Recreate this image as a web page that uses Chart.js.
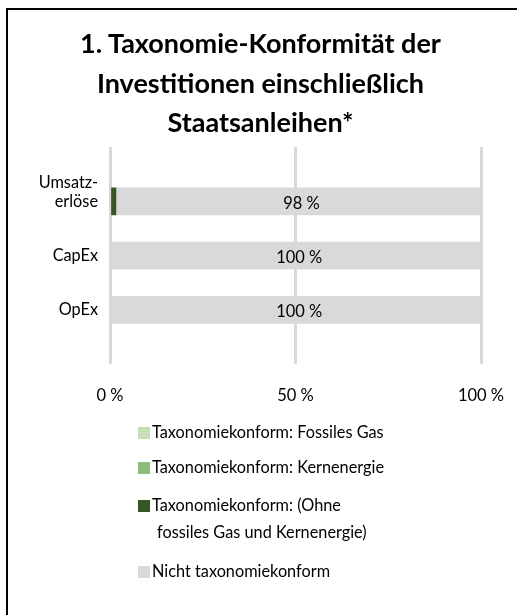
<!DOCTYPE html>
<html><head><meta charset="utf-8">
<script src="https://cdn.jsdelivr.net/npm/chart.js@4"></script>
<style>
html,body{margin:0;padding:0;background:#fff;width:517px;height:615px;overflow:hidden;font-family:Lato,"Open Sans",sans-serif;}
#frame{position:absolute;left:6px;top:8px;width:520px;height:620px;border-left:2px solid #000;border-top:2px solid #000;}
#wrap{position:absolute;left:0;top:0;width:517px;height:615px;}
#title{position:absolute;left:0;top:23px;width:521px;text-align:center;font-weight:bold;font-size:27px;line-height:39.5px;color:#000;}
#legend{position:absolute;left:138px;top:0;font-size:16.3px;color:#000;}
.li{position:absolute;white-space:nowrap;}
.sw{position:absolute;width:12px;height:12px;}
</style></head>
<body>
<div id="frame"></div>
<div id="wrap"><canvas id="c" width="517" height="615"></canvas></div>
<div id="title"></div>
<div id="legend"></div>
<script>
const titleLines = ["1. Taxonomie-Konformität der", "Investitionen einschließlich", "Staatsanleihen*"];
const categories = ["Umsatzerlöse", "CapEx", "OpEx"];
const categoryTickLabels = [["Umsatz-", "erlöse", ""], "CapEx", "OpEx"];
const seriesNames = ["Taxonomiekonform: Fossiles Gas", "Taxonomiekonform: Kernenergie", "Taxonomiekonform: (Ohne fossiles Gas und Kernenergie)", "Nicht taxonomiekonform"];
const legendLines = [["Taxonomiekonform: Fossiles Gas"], ["Taxonomiekonform: Kernenergie"], ["Taxonomiekonform: (Ohne", "fossiles Gas und Kernenergie)"], ["Nicht taxonomiekonform"]];
const fossilGas = [0, 0, 0];
const nuclear = [0, 0, 0];
const alignedOther = [1.6, 0, 0];
const notAligned = [98.4, 100, 100];
const xTicks = [0, 50, 100];
const colors = ["#c5e0b4", "#8fbc7e", "#375623", "#d9d9d9"];

document.getElementById('title').innerHTML = titleLines.join('<br>');

// padded category list so that bars sit on interior positions (offset:false)
const labels = ['', ...categories, ''];
const pad = a => [null, ...a, null];
const tickMap = ['', ...categoryTickLabels, ''];

const valueLabels = {
  id: 'valueLabels',
  afterDatasetsDraw(chart) {
    const ctx = chart.ctx;
    const meta = chart.getDatasetMeta(3);
    ctx.save();
    ctx.font = '16.5px Lato, "Open Sans", sans-serif';
    ctx.fillStyle = '#000';
    ctx.textAlign = 'center';
    ctx.textBaseline = 'middle';
    meta.data.forEach((el, i) => {
      const v = chart.data.datasets[3].data[i];
      if (v == null) return;
      const p = el.getCenterPoint();
      ctx.fillText(Math.round(v) + ' %', p.x + 3, p.y + 2);
    });
    ctx.restore();
  }
};

const datasets = [fossilGas, nuclear, alignedOther, notAligned].map((d, i) => ({
  label: seriesNames[i],
  data: pad(d),
  backgroundColor: c => (c.raw ? colors[i] : 'rgba(0,0,0,0)'),
  barThickness: 27,
  borderWidth: 0
}));

const chart = new Chart(document.getElementById('c'), {
  type: 'bar',
  data: { labels, datasets },
  plugins: [valueLabels],
  options: {
    indexAxis: 'y',
    responsive: false,
    animation: false,
    events: [],
    layout: { padding: { top: 147, right: 36, bottom: 187, left: 0 } },
    plugins: { legend: { display: false }, title: { display: false }, tooltip: { enabled: false } },
    scales: {
      x: {
        stacked: true, min: 0, max: 100,
        afterBuildTicks: s => { s.ticks = xTicks.map(v => ({ value: v })); },
        afterFit: s => { s.paddingLeft = 0; s.paddingRight = 0; },
        ticks: { callback: v => v + ' %', color: '#000', font: { size: 16.5, family: 'Lato' }, padding: 22, maxRotation: 0 },
        grid: { color: '#d9d9d9', lineWidth: 3, drawTicks: false },
        border: { display: false }
      },
      y: {
        stacked: true, offset: false,
        afterFit: s => { s.width = 110; },
        ticks: { callback: (v, i) => tickMap[i], color: '#000', font: { size: 16.3, family: 'Lato', lineHeight: 1.12 }, padding: 4, autoSkip: false },
        grid: { display: false },
        border: { display: false }
      }
    }
  }
});

// HTML legend positioned below the chart area
const lg = document.getElementById('legend');
const base = chart.chartArea.bottom;
const offsets = [69, 104, 142, 208];
legendLines.forEach((lines, i) => {
  const top = base + offsets[i];
  const sw = document.createElement('div');
  sw.className = 'sw';
  sw.style.background = colors[i];
  sw.style.left = '0px';
  sw.style.top = (top - 6) + 'px';
  lg.appendChild(sw);
  lines.forEach((t, j) => {
    const d = document.createElement('div');
    d.className = 'li';
    d.textContent = t;
    d.style.left = (j === 0 ? 14 : 19) + 'px';
    d.style.top = (top - 11 + j * 27) + 'px';
    lg.appendChild(d);
  });
});
</script>
</body></html>
